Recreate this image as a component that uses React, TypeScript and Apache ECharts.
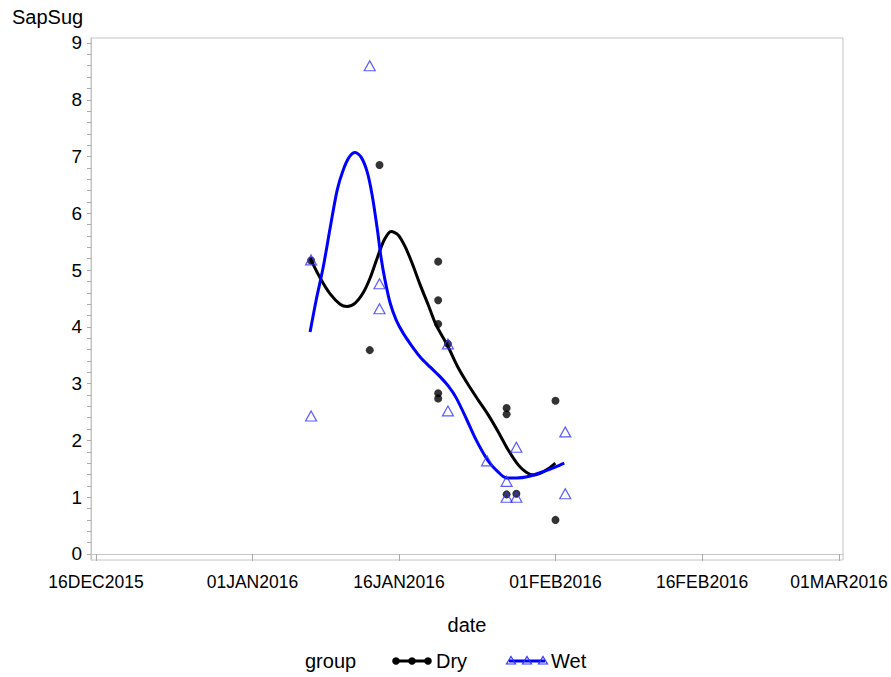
import React, { useEffect, useRef } from "react";
import * as echarts from "echarts";

// Observations
const dryDates = ["2016-01-07", "2016-01-13", "2016-01-14", "2016-01-20", "2016-01-20", "2016-01-20", "2016-01-20", "2016-01-20", "2016-01-21", "2016-01-27", "2016-01-27", "2016-01-27", "2016-01-28", "2016-02-01", "2016-02-01"];
const dryValues = [5.17, 3.59, 6.85, 5.15, 4.47, 4.05, 2.83, 2.74, 3.7, 2.57, 2.46, 1.05, 1.06, 2.7, 0.6];

const wetDates = ["2016-01-07", "2016-01-07", "2016-01-13", "2016-01-14", "2016-01-14", "2016-01-21", "2016-01-21", "2016-01-25", "2016-01-27", "2016-01-27", "2016-01-28", "2016-01-28", "2016-02-02", "2016-02-02"];
const wetValues = [5.18, 2.43, 8.6, 4.76, 4.32, 3.7, 2.52, 1.64, 1.28, 1.0, 1.0, 1.88, 2.15, 1.06];

// Smoothed fits (x = days after 16DEC2015)
const dryFitDays = [21.9, 22.93, 23.95, 24.97, 25.69, 26.51, 27.33, 28.04, 28.76, 29.48, 30.19, 30.91, 31.63, 32.34, 33.16, 33.98, 34.8, 35.93, 37.05, 38.08, 39.1, 40.12, 41.15, 42.17, 43.19, 44.01, 44.73, 45.55, 46.26, 46.98];
const dryFitValues = [5.21, 4.86, 4.58, 4.4, 4.36, 4.42, 4.6, 4.86, 5.21, 5.53, 5.68, 5.62, 5.41, 5.12, 4.74, 4.39, 4.03, 3.68, 3.28, 2.98, 2.71, 2.45, 2.15, 1.83, 1.57, 1.44, 1.39, 1.43, 1.5, 1.6];

const wetFitDays = [21.9, 22.52, 23.23, 23.95, 24.67, 25.28, 25.9, 26.51, 27.12, 27.74, 28.25, 28.76, 29.17, 29.58, 30.09, 30.71, 31.42, 32.24, 33.16, 34.19, 35.21, 36.03, 36.85, 37.94, 38.79, 39.61, 40.33, 41.04, 41.97, 42.99, 44.11, 45.75, 46.98, 47.9];
const wetFitValues = [3.91, 4.47, 5.04, 5.74, 6.41, 6.76, 6.99, 7.07, 6.99, 6.73, 6.32, 5.74, 5.21, 4.81, 4.42, 4.12, 3.89, 3.68, 3.47, 3.29, 3.12, 2.96, 2.75, 2.36, 2.04, 1.78, 1.59, 1.46, 1.34, 1.34, 1.36, 1.45, 1.53, 1.6];

// Axis ticks
const xTickDates = ["2015-12-16", "2016-01-01", "2016-01-16", "2016-02-01", "2016-02-16", "2016-03-01"];
const yTickLabels = [0, 1, 2, 3, 4, 5, 6, 7, 8, 9];

const DAY = 86400000;
const ts = (s: string) => {
  const [y, m, d] = s.split("-").map(Number);
  return Date.UTC(y, m - 1, d);
};
const BASE = ts("2015-12-16");
const MONTHS = ["JAN", "FEB", "MAR", "APR", "MAY", "JUN", "JUL", "AUG", "SEP", "OCT", "NOV", "DEC"];
const fmtDate = (v: number) => {
  const d = new Date(v);
  const dd = String(d.getUTCDate()).padStart(2, "0");
  return dd + MONTHS[d.getUTCMonth()] + d.getUTCFullYear();
};

const FONT = "'Liberation Sans', Arial, sans-serif";

export default function App() {
  const ref = useRef<HTMLDivElement>(null);
  useEffect(() => {
    if (!ref.current) return;
    const chart = echarts.init(ref.current, undefined, { renderer: "svg" });
    const minorTicks: number[] = [];
    for (let i = 0; i <= 45; i++) minorTicks.push(Math.round(i * 0.2 * 10) / 10);

    const tri = (cx: number, cy: number) => ({
      type: "polygon",
      shape: { points: [[cx, cy - 4.5], [cx + 4.5, cy + 3], [cx - 4.5, cy + 3]] },
      style: { fill: "rgba(255,255,255,0)", stroke: "#3333ff", lineWidth: 1.2 },
      z: 10,
    });

    chart.setOption({
      animation: false,
      backgroundColor: "#fff",
      textStyle: { fontFamily: FONT },
      grid: {
        left: 91,
        right: 48,
        top: 38,
        bottom: 117,
        show: true,
        borderColor: "#c4c4c4",
        borderWidth: 1,
        containLabel: false,
      },
      xAxis: {
        type: "value",
        min: BASE - 0.51 * DAY,
        max: ts("2016-03-01") + 0.41 * DAY,
        name: "date",
        nameLocation: "middle",
        nameGap: 55,
        nameTextStyle: { fontSize: 20, color: "#000", fontFamily: FONT },
        axisLine: { show: true, lineStyle: { color: "#c4c4c4" } },
        axisTick: { show: true, length: 7, customValues: xTickDates.map(ts), lineStyle: { color: "#aaaaaa" } },
        axisLabel: {
          customValues: xTickDates.map(ts),
          formatter: (v: number) => fmtDate(v),
          fontSize: 17.5,
          color: "#000",
          margin: 13,
          fontFamily: FONT,
        },
        splitLine: { show: false },
      },
      yAxis: {
        type: "value",
        min: -0.106,
        max: 9.088,
        axisLine: { show: true, lineStyle: { color: "#c4c4c4" } },
        axisTick: { show: true, length: 4, customValues: minorTicks, lineStyle: { color: "#aaaaaa" } },
        axisLabel: {
          customValues: yTickLabels,
          fontSize: 19,
          color: "#000",
          margin: 9,
          fontFamily: FONT,
        },
        splitLine: { show: false },
      },
      graphic: [
        { type: "text", left: 12, top: 7, style: { text: "SapSug", fontSize: 20, fill: "#000", fontFamily: FONT } },
        { type: "text", x: 305, y: 661, style: { text: "group", fontSize: 20, fill: "#000", fontFamily: FONT, verticalAlign: "middle" } },
        { type: "line", shape: { x1: 395, y1: 661, x2: 429, y2: 661 }, style: { stroke: "#000", lineWidth: 3 } },
        { type: "circle", shape: { cx: 396, cy: 661, r: 3.8 }, style: { fill: "#000" } },
        { type: "circle", shape: { cx: 412, cy: 661, r: 3.8 }, style: { fill: "#000" } },
        { type: "circle", shape: { cx: 428, cy: 661, r: 3.8 }, style: { fill: "#000" } },
        { type: "text", x: 436, y: 661, style: { text: "Dry", fontSize: 20, fill: "#000", fontFamily: FONT, verticalAlign: "middle" } },
        { type: "line", shape: { x1: 509, y1: 661, x2: 545, y2: 661 }, style: { stroke: "#0000ff", lineWidth: 3 } },
        tri(511, 661),
        tri(527, 661),
        tri(543, 661),
        { type: "text", x: 551, y: 661, style: { text: "Wet", fontSize: 20, fill: "#000", fontFamily: FONT, verticalAlign: "middle" } },
      ],
      series: [
        {
          name: "Dry fit",
          type: "line",
          data: dryFitDays.map((d, i) => [BASE + d * DAY, dryFitValues[i]]),
          smooth: 0.3,
          showSymbol: false,
          lineStyle: { color: "#000", width: 3 },
          z: 2,
        },
        {
          name: "Wet fit",
          type: "line",
          data: wetFitDays.map((d, i) => [BASE + d * DAY, wetFitValues[i]]),
          smooth: 0.3,
          showSymbol: false,
          lineStyle: { color: "#0000ff", width: 3 },
          z: 2,
        },
        {
          name: "Dry",
          type: "scatter",
          data: dryDates.map((d, i) => [ts(d), dryValues[i]]),
          symbol: "circle",
          symbolSize: 8,
          itemStyle: { color: "#000" },
          z: 3,
        },
        {
          name: "Wet",
          type: "scatter",
          data: wetDates.map((d, i) => [ts(d), wetValues[i]]),
          symbol: "triangle",
          symbolSize: [11, 10],
          itemStyle: { color: "rgba(0,0,0,0)", borderColor: "#3333ff", borderWidth: 1.2 },
          z: 4,
        },
      ],
    });
    return () => chart.dispose();
  }, []);
  return (
    <div
      ref={ref}
      style={{ position: "fixed", left: 0, top: 0, width: 891, height: 677, background: "#fff" }}
    />
  );
}
